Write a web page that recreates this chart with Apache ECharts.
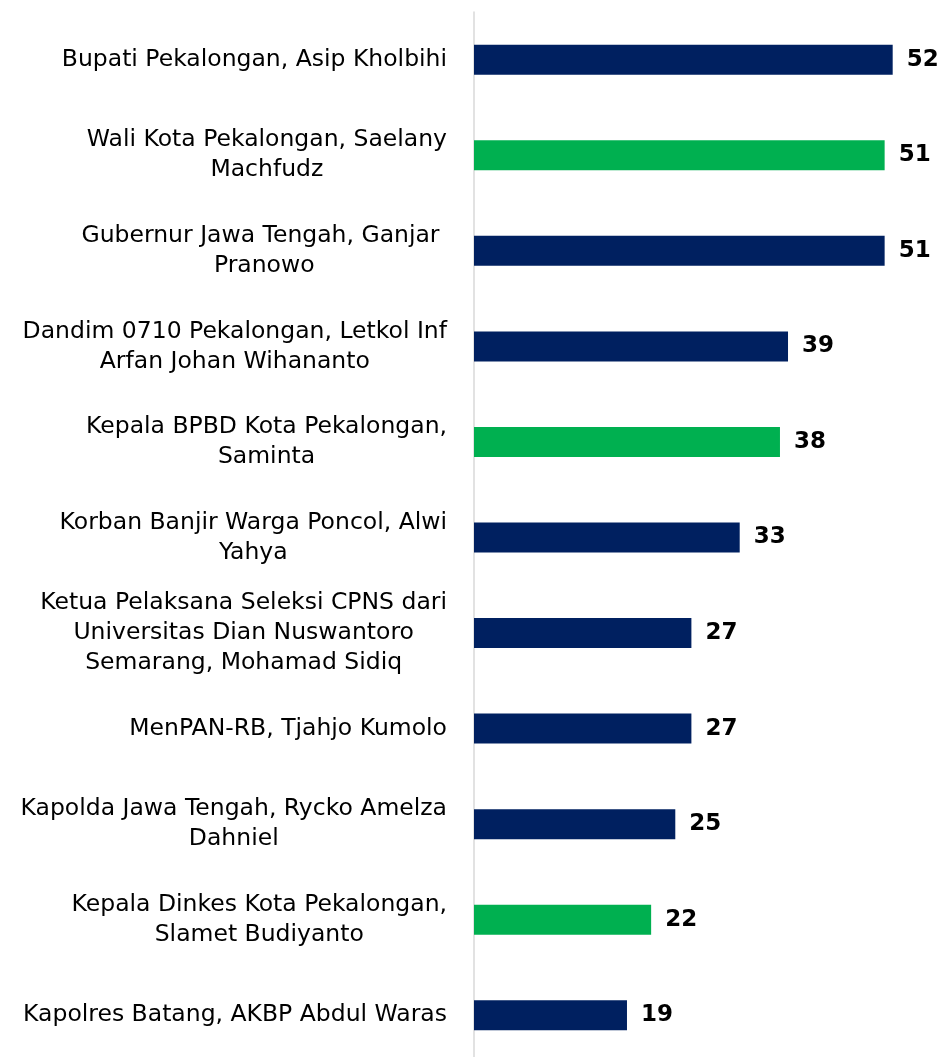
<!DOCTYPE html>
<html>
<head>
<meta charset="utf-8">
<script src="https://cdn.jsdelivr.net/npm/echarts@6/dist/echarts.min.js"></script>
<style>html,body{margin:0;padding:0;background:#fff;overflow:hidden;}#chart{width:948px;height:1080px;}</style>
</head>
<body>
<div id="chart"></div>
<script>
const categories = [
  "Bupati Pekalongan, Asip Kholbihi",
  "Wali Kota Pekalongan, Saelany\nMachfudz",
  "Gubernur Jawa Tengah, Ganjar \nPranowo",
  "Dandim 0710 Pekalongan, Letkol Inf\nArfan Johan Wihananto",
  "Kepala BPBD Kota Pekalongan,\nSaminta",
  "Korban Banjir Warga Poncol, Alwi\nYahya",
  "Ketua Pelaksana Seleksi CPNS dari\nUniversitas Dian Nuswantoro\nSemarang, Mohamad Sidiq",
  "MenPAN-RB, Tjahjo Kumolo",
  "Kapolda Jawa Tengah, Rycko Amelza\nDahniel",
  "Kepala Dinkes Kota Pekalongan,\nSlamet Budiyanto",
  "Kapolres Batang, AKBP Abdul Waras"
];
const values = [52, 51, 51, 39, 38, 33, 27, 27, 25, 22, 19];
const highlighted = [false, true, false, false, true, false, false, false, false, true, false];

const NAVY = '#002060', GREEN = '#00B050';
const FONT = 'DejaVu Sans';
const chart = echarts.init(document.getElementById('chart'));
chart.setOption({
  animation: false,
  grid: { left: 474, top: 12, width: 467, height: 1051 },
  xAxis: { type: 'value', min: 0, max: 58, show: false },
  yAxis: {
    type: 'category', data: categories, inverse: true,
    axisLine: { show: true, lineStyle: { color: '#d9d9d9', width: 1.5 } },
    axisTick: { show: false },
    axisLabel: {
      margin: 27, color: '#000', fontFamily: FONT,
      fontSize: 23.5, lineHeight: 30, align: 'right',
      formatter: v => v.split('\n').map(l => '{c|' + l + '}').join('\n'),
      rich: { c: { align: 'center', fontFamily: FONT, fontSize: 23.5, lineHeight: 30, color: '#000' } }
    }
  },
  series: [{
    type: 'bar', barWidth: 30,
    data: values.map((v, i) => ({ value: v, itemStyle: { color: highlighted[i] ? GREEN : NAVY } })),
    label: {
      show: true, position: 'right', distance: 14, color: '#000',
      fontWeight: 'bold', fontSize: 23, fontFamily: FONT
    }
  }]
});
</script>
</body>
</html>
